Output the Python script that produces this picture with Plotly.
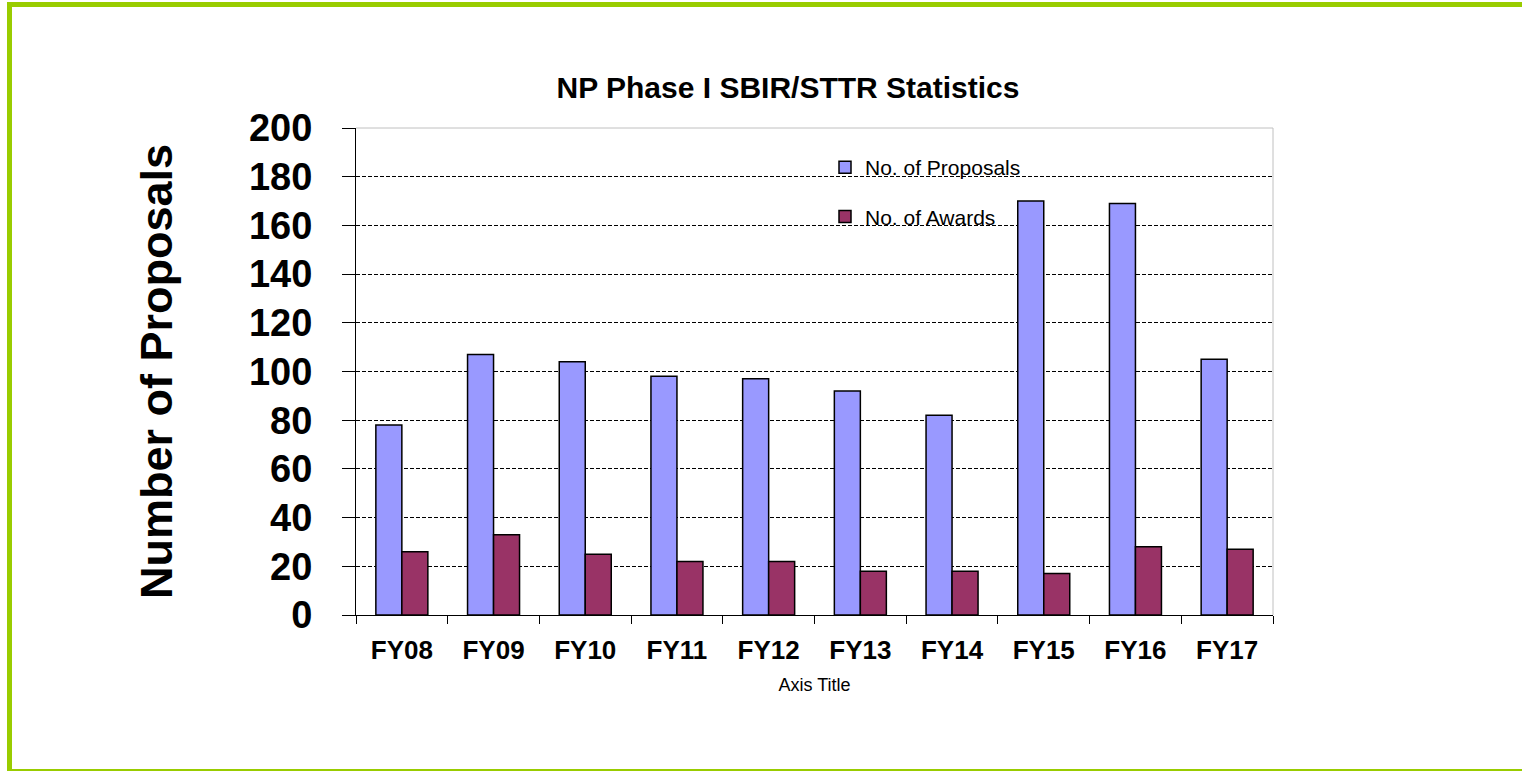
import plotly.graph_objects as go

categories = ["FY08", "FY09", "FY10", "FY11", "FY12", "FY13", "FY14", "FY15", "FY16", "FY17"]
proposals = [78, 107, 104, 98, 97, 92, 82, 170, 169, 105]
awards = [26, 33, 25, 22, 22, 18, 18, 17, 28, 27]
y_ticks = [0, 20, 40, 60, 80, 100, 120, 140, 160, 180, 200]

FONT = "Arial, 'Liberation Sans', sans-serif"
W, H = 1522, 771
L, R, T, B = 356, 1273, 128, 615
pw, ph = R - L, B - T

def px(x):
    return (x - L) / pw

def py(y):
    return (B - y) / ph

fig = go.Figure()
fig.add_trace(go.Bar(
    x=categories, y=proposals, name="No. of Proposals",
    marker=dict(color="#9999FF", line=dict(color="#000000", width=1.5)),
    legendgroup="p",
))
fig.add_trace(go.Bar(
    x=categories, y=awards, name="No. of Awards",
    marker=dict(color="#993366", line=dict(color="#000000", width=1.5)),
    legendgroup="a",
))

fig.update_layout(
    width=W, height=H,
    margin=dict(l=L, r=W - R, t=T, b=H - B, autoexpand=False),
    paper_bgcolor="white", plot_bgcolor="white",
    barmode="group", bargap=0.433, bargroupgap=0,
    font=dict(family=FONT, color="#000000"),
    title=dict(
        text="NP Phase I SBIR/STTR Statistics",
        font=dict(size=30, family=FONT, color="#000000", weight="bold"),
        xref="paper", x=px(788), xanchor="center",
        yref="container", y=1 - 87 / H, yanchor="middle",
    ),
    legend=dict(
        x=px(825), y=py(147), xanchor="left", yanchor="top",
        bgcolor="rgba(0,0,0,0)", borderwidth=0,
        font=dict(size=21, family=FONT, color="#000000"),
        traceorder="grouped", tracegroupgap=19,
    ),
    showlegend=True,
)

fig.update_xaxes(
    showline=True, linecolor="#000000", linewidth=1,
    ticks="outside", ticklen=8, tickcolor="#000000", tickwidth=1,
    tickson="boundaries",
    tickfont=dict(size=26, family=FONT, color="#000000", weight="bold"),
    ticklabelstandoff=12,
    showgrid=False,
    title=dict(text="Axis Title", font=dict(size=18, family=FONT, color="#000000"), standoff=14),
)
fig.update_yaxes(
    range=[0, 200], tickvals=y_ticks,
    showline=True, linecolor="#000000", linewidth=1,
    ticks="outside", ticklen=13, tickcolor="#000000", tickwidth=1,
    tickfont=dict(size=38, family=FONT, color="#000000", weight="bold"),
    ticklabelstandoff=22,
    showgrid=True, gridcolor="#000000", gridwidth=1, griddash="4px,2px",
    zeroline=False,
    title=dict(text="Number of Proposals",
               font=dict(size=45, family=FONT, color="#000000", weight="bold"), standoff=62),
)

# plot-area border (top and right, gray)
fig.add_shape(type="line", xref="paper", yref="paper", x0=0, x1=1, y0=1, y1=1,
              line=dict(color="#C0C0C0", width=1), layer="above")
fig.add_shape(type="line", xref="paper", yref="paper", x0=1, x1=1, y0=0, y1=1,
              line=dict(color="#C0C0C0", width=1), layer="below")
# green outer frame
fig.add_shape(type="rect", xref="paper", yref="paper",
              x0=px(9.5), x1=px(1540), y0=py(4.5), y1=py(771.5),
              line=dict(color="#99CC00", width=5), layer="above")

fig.write_html("out.html", config={"displayModeBar": False},
               post_script="document.body.style.margin='0px';")
